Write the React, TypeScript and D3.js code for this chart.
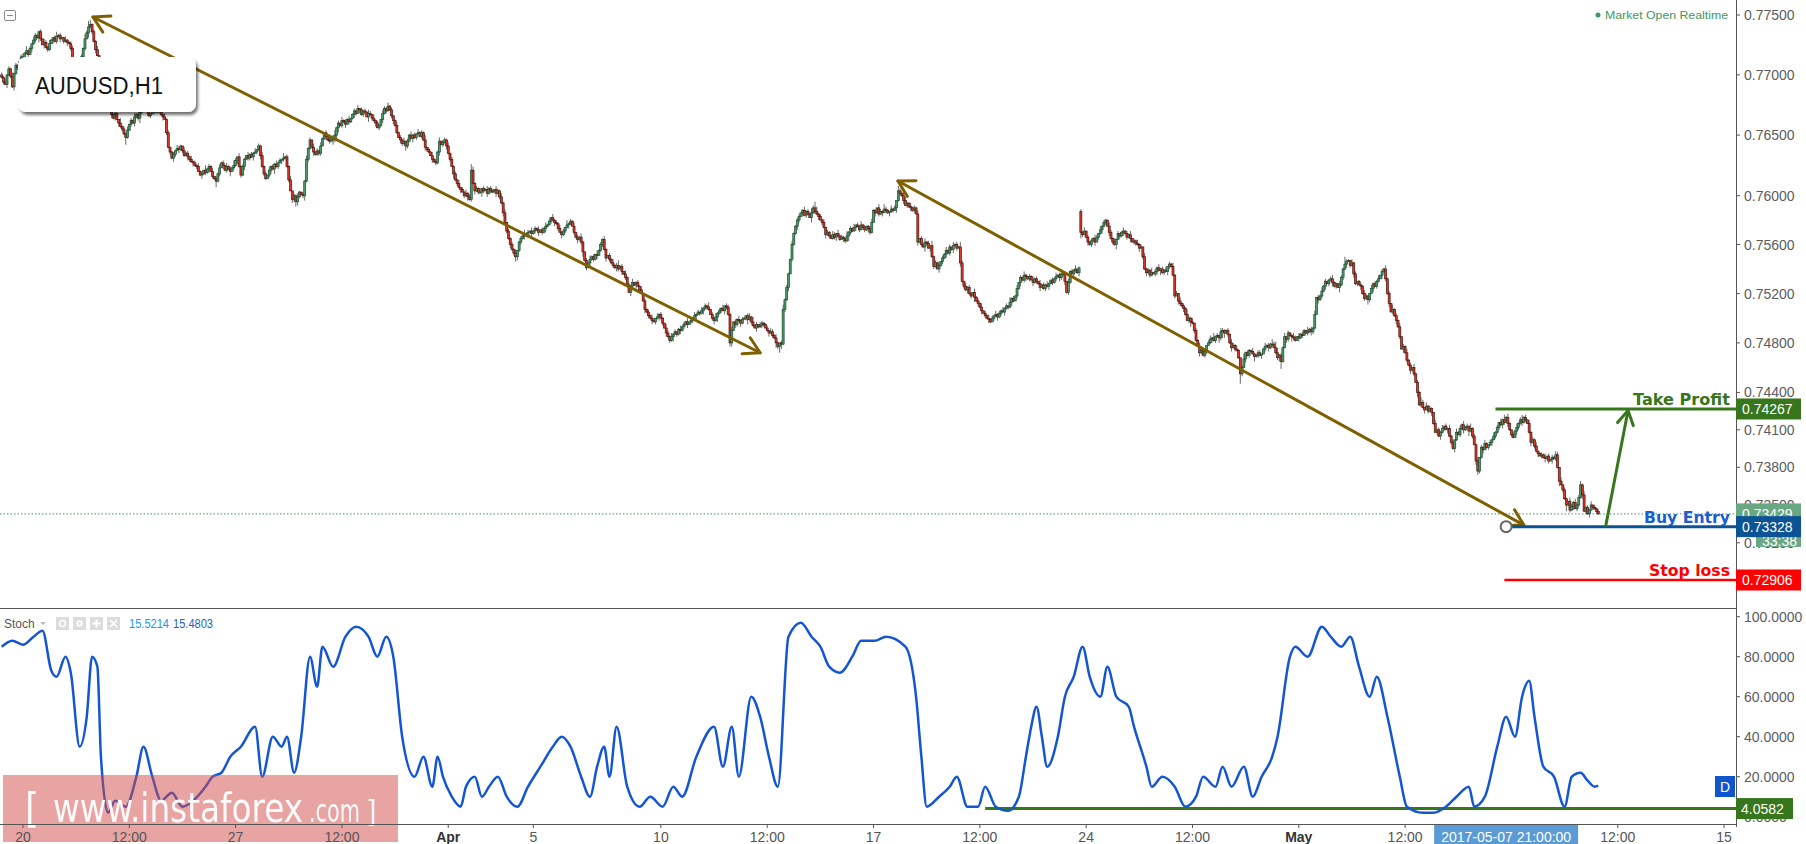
import React, { useEffect } from "react";
import * as d3 from "d3";

// ---------------- DATA ----------------
// AUDUSD H1 closes, in pips (0.0001). Bar 0 = first visible hourly bar.
const firstOpenPips = 7700;
const closesPips = [
7698,7694,7692,7700,7705,7699,7690,7701,7708,7706,
7711,7715,7713,7718,7720,7717,7722,7726,7729,7733,
7731,7736,7730,7725,7727,7723,7721,7726,7729,7731,
7728,7732,7733,7730,7731,7728,7729,7727,7726,7722,
7711,7706,7709,7708,7712,7715,7722,7730,7735,7740,
7742,7736,7728,7721,7716,7710,7702,7695,7688,7681,
7675,7670,7667,7664,7668,7663,7660,7657,7655,7651,
7648,7654,7659,7662,7660,7665,7667,7664,7669,7671,
7672,7675,7671,7666,7668,7670,7673,7669,7672,7670,
7667,7665,7663,7652,7640,7636,7631,7634,7637,7639,
7638,7641,7637,7633,7635,7632,7630,7628,7627,7625,
7624,7620,7617,7618,7621,7619,7622,7624,7620,7616,
7614,7612,7618,7623,7627,7625,7621,7624,7622,7620,
7623,7625,7629,7632,7624,7617,7624,7630,7633,7631,
7634,7632,7635,7636,7638,7641,7633,7624,7618,7614,
7617,7621,7624,7622,7626,7624,7627,7629,7630,7631,
7632,7624,7613,7604,7597,7600,7595,7599,7603,7601,
7600,7612,7630,7639,7646,7640,7636,7634,7637,7635,
7641,7647,7652,7649,7646,7645,7648,7646,7650,7656,
7660,7658,7662,7661,7659,7663,7661,7664,7667,7670,
7668,7672,7671,7667,7670,7669,7665,7668,7667,7664,
7662,7660,7656,7658,7663,7668,7672,7670,7674,7671,
7666,7662,7658,7652,7648,7646,7643,7645,7641,7645,
7650,7647,7650,7648,7651,7652,7649,7652,7646,7640,
7638,7636,7633,7630,7628,7627,7636,7645,7642,7644,
7646,7641,7635,7630,7624,7618,7613,7610,7607,7605,
7603,7600,7602,7599,7597,7621,7610,7604,7606,7603,
7603,7606,7604,7605,7602,7606,7604,7603,7605,7602,
7604,7599,7594,7586,7578,7571,7565,7560,7556,7553,
7550,7555,7562,7565,7567,7569,7567,7570,7571,7569,
7571,7573,7572,7570,7572,7570,7573,7575,7576,7579,
7582,7580,7578,7577,7573,7570,7568,7571,7574,7576,
7577,7579,7575,7570,7566,7564,7566,7562,7554,7547,
7541,7545,7548,7550,7548,7552,7551,7555,7560,7564,
7556,7549,7551,7548,7545,7543,7541,7543,7540,7542,
7538,7536,7533,7527,7521,7526,7529,7527,7529,7526,
7523,7520,7514,7507,7505,7502,7500,7498,7497,7500,
7501,7503,7500,7496,7492,7488,7485,7482,7485,7487,
7489,7487,7491,7490,7493,7495,7497,7495,7497,7498,
7500,7502,7503,7505,7504,7506,7508,7510,7509,7507,
7503,7500,7498,7501,7504,7506,7508,7506,7510,7509,
7503,7480,7490,7497,7495,7499,7498,7496,7499,7500,
7502,7499,7501,7497,7494,7492,7495,7493,7494,7496,
7495,7492,7490,7488,7489,7486,7484,7480,7477,7480,
7479,7507,7515,7525,7536,7548,7560,7569,7575,7580,
7583,7586,7588,7584,7587,7585,7582,7586,7590,7587,
7585,7583,7580,7578,7574,7568,7570,7567,7565,7568,
7566,7569,7567,7564,7566,7565,7563,7567,7570,7573,
7571,7574,7576,7575,7572,7576,7574,7572,7575,7573,
7570,7578,7588,7586,7590,7585,7587,7586,7589,7588,
7586,7587,7589,7588,7590,7596,7604,7602,7600,7596,
7592,7594,7591,7590,7588,7590,7585,7562,7565,7560,
7558,7562,7561,7557,7559,7550,7542,7545,7540,7543,
7546,7549,7552,7555,7553,7558,7556,7559,7560,7557,
7558,7545,7530,7526,7523,7525,7520,7518,7521,7517,
7514,7512,7509,7506,7504,7502,7500,7499,7497,7500,
7502,7503,7501,7504,7506,7505,7508,7510,7509,7513,
7516,7514,7518,7524,7529,7533,7531,7535,7534,7532,
7534,7531,7529,7532,7530,7528,7525,7527,7524,7527,
7526,7528,7531,7529,7532,7534,7535,7533,7536,7536,
7530,7521,7529,7538,7536,7539,7540,7537,7541,7570,
7568,7571,7566,7562,7560,7563,7565,7562,7566,7569,
7572,7575,7578,7580,7575,7570,7565,7562,7560,7564,
7569,7567,7570,7571,7569,7566,7568,7565,7562,7563,
7561,7560,7557,7558,7550,7540,7537,7539,7535,7537,
7536,7538,7541,7539,7540,7537,7539,7538,7542,7544,
7542,7535,7518,7520,7514,7512,7510,7508,7503,7498,
7500,7497,7496,7490,7482,7477,7472,7474,7470,7473,
7478,7480,7483,7484,7482,7485,7486,7484,7489,7490,
7488,7490,7487,7480,7476,7478,7475,7474,7468,7455,
7460,7467,7472,7470,7474,7473,7471,7469,7470,7472,
7470,7471,7475,7477,7478,7476,7479,7479,7476,7472,
7468,7470,7465,7476,7485,7483,7488,7486,7485,7484,
7482,7485,7484,7487,7486,7490,7488,7489,7491,7489,
7492,7503,7517,7515,7518,7522,7526,7530,7528,7531,
7532,7529,7526,7528,7525,7527,7533,7540,7544,7546,
7547,7543,7545,7536,7528,7530,7527,7526,7520,7516,
7518,7515,7520,7524,7528,7526,7530,7532,7535,7538,
7540,7532,7520,7512,7505,7507,7502,7498,7493,7485,
7475,7477,7472,7466,7462,7458,7460,7455,7448,7440,
7430,7432,7428,7426,7429,7425,7427,7424,7415,7408,
7410,7405,7408,7411,7413,7410,7411,7405,7400,7395,
7402,7408,7406,7411,7414,7410,7412,7413,7409,7411,
7405,7398,7385,7377,7388,7396,7394,7399,7396,7398,
7400,7402,7405,7408,7412,7416,7414,7418,7416,7420,
7415,7410,7406,7404,7409,7412,7415,7418,7416,7420,
7418,7415,7408,7400,7402,7397,7393,7391,7389,7390,
7388,7387,7389,7385,7386,7388,7387,7390,7380,7369,
7366,7362,7355,7350,7353,7346,7349,7352,7347,7350,
7356,7366,7358,7345,7348,7343,7346,7350,7348,7347,
7345,7343
];
// bars whose open gaps away from the previous close: [bar, open pips]
const gapOpens = [[609, 7587]];
// upper / lower wick lengths in pips, one digit per bar
const wickUpPips = (
"2130213121 0231412032 1120321310 2412103112 2013121425" +
"4121302113 2031210412 1302131201 2311032142 1031201213" +
"2103121302 1312041213 0213120312 1420312103 1213021312" +
"0312131204 1213021310 2131203121 3102131241 2031213012" +
"1302121320 3121032131 2013121302 1312031214 0213121302" +
"2130212130 2131253121 3021312103 2131302121 3012131203" +
"1213021312 0312131204 1213021310 2131203121 3102131241" +
"2031213012 1302121320 3121032131 2013121302 1312031214" +
"0213121302 2130213121 0231412032 1120321310 2412103112" +
"2013121425 4121302113 2031210412 1302131201 2311032142" +
"1031204213 3103121302 1312041213 0213120312 1420312103" +
"1213021312 0312131204 1213021310 2131203121 3102131241" +
"2031213012 1302121320 3121032131 2013121302 1312031214" +
"0213121302 1312031214 2130213121 0231412032 1120321310" +
"2412103112 2013121425 4121302113 2031210412 1302131201" +
"2311032162 1031201213 2103121302 1312041213 0213120312" +
"1420312103 1213021312 0312131204 1213021310 2131203141" +
"3102131241 2031213012 1302121320 3121032131 2313121302" +
"12").replace(/\s/g, "").split("").map(Number);
const wickDownPips = (
"1203121312 0213120312 1420312103 1213021312 0312131204" +
"1213021310 2131203121 6102131241 2031213012 1302121320" +
"3121032131 2013121302 1512031214 0213121302 2130213121" +
"0231412032 1120324310 2412103112 2013121425 4121302113" +
"2031210412 1302131201 2311032142 1031201213 2103121302" +
"1312041213 0213120312 1420312103 1213021312 4312131204" +
"1213021310 2131203121 3102131241 2031213012 1302121320" +
"3121032131 2013121302 1312031214 0213121302 2130213121" +
"0231412032 1330321310 2412103112 2013121425 4121302113" +
"2031210412 1302131201 2311032142 1031201213 2103121302" +
"1312041213 0213120312 1420312103 1213021312 0312131204" +
"1213021310 2131203121 3102131241 2031213012 1302121320" +
"3121032135 2013121302 1312031214 0213121302 2130213121" +
"0231412032 1120321310 2412103112 2013121425 4121302118" +
"2031210412 1302131201 2361032142 1031201213 2103121302" +
"1312041213 0213120312 1420312103 1213021312 0312131204" +
"1213021310 2131203121 3102131241 2033213012 1302121320" +
"3121032131 2013121302 1312031214 0215121302 2130213121" +
"21").replace(/\s/g, "").split("").map(Number);

// Stochastic (traced points: bar index, value)
const stochBars = [0,6,12,18,23,28,31,36,39,44,48,51,54,56,60,64,70,76,80,85,90,96,102,108,115,119,124,129,135,143,147,153,158,161,165,169,174,178,181,187,194,200,207,212,217,221,226,233,238,243,246,249,254,259,262,267,271,275,280,285,291,297,304,311,316,321,327,332,336,340,343,347,353,360,366,373,379,384,392,402,407,412,416,423,428,433,438,444,451,457,462,467,473,480,485,493,499,510,516,519,522,529,535,539,545,551,555,561,568,574,578,581,584,587,590,596,600,605,610,614,620,624,629,636,639,646,649,655,662,668,674,678,685,689,694,701,706,711,717,720,727,730,737,745,750,756,761,766,772,776,782,789,793,802,808,815,821,828,831,837,844,849,854,858,862,865,870,876,882,886,891,895,899,901];
const stochValues = [85,88,86,90,93,73,70,80,72,35,50,80,75,30,2,8,5,20,35,20,8,12,5,8,15,20,22,30,35,45,20,40,35,40,22,40,80,65,85,75,90,95,90,80,90,80,40,20,30,15,30,20,10,5,15,20,10,15,20,10,5,15,25,35,40,35,20,10,25,35,20,45,15,5,10,5,15,10,30,45,25,45,20,60,50,30,15,90,97,90,85,75,72,80,88,88,90,85,60,30,5,10,15,20,5,5,15,5,3,10,30,45,55,40,25,40,60,70,85,70,60,75,60,55,45,25,15,20,15,5,10,20,15,25,15,25,10,20,30,40,80,85,80,95,90,85,90,75,60,70,50,20,5,2,2,5,10,15,5,10,35,50,40,60,68,50,25,20,5,20,22,18,15,15.5];

const priceTicks = [0.775, 0.77, 0.765, 0.76, 0.756, 0.752, 0.748, 0.744, 0.741, 0.738, 0.735, 0.732];
const stochTicks = [100, 80, 60, 40, 20, 0];
const timeTickBars = [12, 72, 132, 192, 252, 300, 372, 432, 492, 552, 612, 672, 732, 792, 912, 972];
const timeTickLabels = ["20", "12:00", "27", "12:00", "Apr", "5", "10", "12:00", "17", "12:00", "24", "12:00", "May", "12:00", "12:00", "15"];
const boldTimeLabels = ["Apr", "May"];

const takeProfit = 0.74267;
const buyEntry = 0.73328;
const stopLoss = 0.72906;
const lastPrice = 0.73429;
const stochLevel = 4.0582;
const stochLegendValues = ["15.5214", "15.4803"];
const crosshairBar = 849;
const crosshairLabel = "2017-05-07 21:00:00";
const countdownLabel = "33:38";

// annotation anchors: [bar, price]
const trendArrows = [
  { from: [51.5, 0.77483], to: [428, 0.7472] },
  { from: [505.8, 0.76121], to: [859, 0.7334] },
];
const targetArrow = { from: [905.3, 0.7334], to: [917.8, 0.74255] };
const levelStartBars = { tp: 843, entry: 849, sl: 848, stochLine: 555 };

// ---------------- STYLE ----------------
const FONT = "'Liberation Sans', Arial, sans-serif";
const AXIS_X = 1736;
const MAIN_BOTTOM = 608;
const STOCH_BOTTOM = 824;
const UP_FILL = "#4a9a6b", UP_STROKE = "#1d4f31";
const DN_FILL = "#d93a2a", DN_STROKE = "#4d130d";
const WICK = "#6a6a6a";
const OLIVE = "#7f6000";
const GREEN = "#38761d";
const BLUE = "#0b5394";
const RED = "#ff0000";

function headPath(tx: number, ty: number, fx: number, fy: number, len: number) {
  const a = Math.atan2(fy - ty, fx - tx);
  const a1 = a + Math.PI / 6, a2 = a - Math.PI / 6;
  return `M${tx + len * Math.cos(a1)},${ty + len * Math.sin(a1)}L${tx},${ty}L${tx + len * Math.cos(a2)},${ty + len * Math.sin(a2)}`;
}

export default function App() {
  useEffect(() => {
    document.body.style.margin = "0";
  }, []);

  const x = d3.scaleLinear().domain([0, 1000]).range([1.7, 1.7 + 1772]);
  const y = d3.scaleLog().domain([stopLoss, 0.775]).range([580, 15]);
  const ys = d3.scaleLinear().domain([0, 100]).range([816.7, 616.7]);

  const candles = closesPips.map((c, i) => {
    const gap = gapOpens.find((g) => g[0] === i);
    const o = gap ? gap[1] : i === 0 ? firstOpenPips : closesPips[i - 1];
    const h = Math.max(o, c) + (wickUpPips[i] ?? 1);
    const l = Math.min(o, c) - (wickDownPips[i] ?? 1);
    return { i, o: o / 1e4, c: c / 1e4, h: h / 1e4, l: l / 1e4 };
  });

  const stochLine = d3
    .line<number>()
    .x((_, k) => x(stochBars[k]))
    .y((v) => ys(v))
    .curve(d3.curveMonotoneX);

  const fmtP = d3.format(".5f");
  const fmtS = d3.format(".4f");

  const levelBox = (price: number, fill: string, label: string) => {
    const cy = y(price);
    return (
      <g>
        <rect x={AXIS_X} y={cy - 10.5} width={65} height={21} fill={fill} />
        <text x={AXIS_X + 6} y={cy + 5} fill="#fff" fontSize={14}>{label}</text>
      </g>
    );
  };

  return (
    <svg width={1806} height={844} style={{ position: "absolute", left: 0, top: 0, background: "#fff" }} fontFamily={FONT}>
      <defs>
        <clipPath id="mainClip"><rect x={0} y={0} width={AXIS_X} height={MAIN_BOTTOM} /></clipPath>
        <clipPath id="stochClip"><rect x={0} y={MAIN_BOTTOM + 1} width={AXIS_X} height={STOCH_BOTTOM - MAIN_BOTTOM - 1} /></clipPath>
        <filter id="boxShadow" x="-10%" y="-20%" width="130%" height="160%">
          <feDropShadow dx={2} dy={3} stdDeviation={1.8} floodColor="#000" floodOpacity={0.55} />
        </filter>
      </defs>
      <rect x={0} y={0} width={1806} height={844} fill="#fff" />

      {/* ---------- main pane ---------- */}
      <g clipPath="url(#mainClip)">
        <line x1={0} x2={AXIS_X} y1={y(lastPrice)} y2={y(lastPrice)} stroke="#3f9a66" strokeWidth={1} strokeDasharray="1.5,2" />
        <g>
          {candles.map((d) => (
            <line key={"w" + d.i} x1={x(d.i)} x2={x(d.i)} y1={y(d.h)} y2={y(d.l)} stroke={WICK} strokeWidth={1} />
          ))}
        </g>
        <g>
          {candles.map((d) => {
            const up = d.c >= d.o;
            const top = y(Math.max(d.o, d.c));
            const bot = y(Math.min(d.o, d.c));
            return (
              <rect key={"b" + d.i} x={x(d.i) - 1} width={2} y={top} height={Math.max(bot - top, 1)}
                fill={up ? UP_FILL : DN_FILL} stroke={up ? UP_STROKE : DN_STROKE} strokeWidth={0.7} />
            );
          })}
        </g>

        {trendArrows.map((a, k) => {
          const x1 = x(a.from[0]), y1 = y(a.from[1]), x2 = x(a.to[0]), y2 = y(a.to[1]);
          return (
            <g key={"ta" + k} stroke={OLIVE} strokeWidth={3} fill="none" strokeLinecap="round" strokeLinejoin="round">
              <line x1={x1} y1={y1} x2={x2} y2={y2} />
              <path d={headPath(x1, y1, x2, y2, 18)} />
              <path d={headPath(x2, y2, x1, y1, 18)} />
            </g>
          );
        })}

        {/* levels */}
        <line x1={x(levelStartBars.tp)} x2={AXIS_X} y1={y(takeProfit)} y2={y(takeProfit)} stroke={GREEN} strokeWidth={3} />
        <line x1={x(levelStartBars.entry)} x2={AXIS_X} y1={y(buyEntry)} y2={y(buyEntry)} stroke={BLUE} strokeWidth={3} />
        <line x1={x(levelStartBars.sl)} x2={AXIS_X} y1={y(stopLoss)} y2={y(stopLoss)} stroke={RED} strokeWidth={2.5} />
        <circle cx={x(crosshairBar)} cy={y(buyEntry)} r={5.5} fill="#fff" stroke="#666" strokeWidth={2} />

        {(() => {
          const x1 = x(targetArrow.from[0]), y1 = y(targetArrow.from[1]), x2 = x(targetArrow.to[0]), y2 = y(targetArrow.to[1]);
          return (
            <g stroke={GREEN} strokeWidth={3} fill="none" strokeLinecap="round" strokeLinejoin="round">
              <line x1={x1} y1={y1} x2={x2} y2={y2} />
              <path d={headPath(x2, y2, x1, y1, 16)} />
            </g>
          );
        })()}

        <g fontFamily="'DejaVu Sans', Verdana, sans-serif" fontWeight="bold" fontSize={16} textAnchor="end">
          <text x={1730} y={y(takeProfit) - 4} fill={GREEN} textLength={97} lengthAdjust="spacingAndGlyphs">Take Profit</text>
          <text x={1730} y={y(buyEntry) - 4} fill="#1a5fd0" textLength={86} lengthAdjust="spacingAndGlyphs">Buy Entry</text>
          <text x={1730} y={y(stopLoss) - 4} fill={RED} textLength={81} lengthAdjust="spacingAndGlyphs">Stop loss</text>
        </g>

        {/* symbol box */}
        <rect x={18} y={57} width={178} height={55} rx={8} fill="#fff" filter="url(#boxShadow)" />
        <text x={35} y={94} fontSize={23} fill="#111" textLength={128} lengthAdjust="spacingAndGlyphs">AUDUSD,H1</text>

        {/* collapse icon */}
        <rect x={4.5} y={10.5} width={11} height={10} rx={1.5} fill="#fff" stroke="#8a8a8a" />
        <line x1={7} x2={13} y1={15.5} y2={15.5} stroke="#8a8a8a" />

        <circle cx={1598} cy={15} r={2.5} fill="#3c9a60" />
        <text x={1728} y={19} textAnchor="end" fontSize={11.5} fill="#3c9a60" textLength={123} lengthAdjust="spacingAndGlyphs">Market Open Realtime</text>
      </g>

      {/* ---------- stochastic pane ---------- */}
      <g clipPath="url(#stochClip)">
        <line x1={x(levelStartBars.stochLine)} x2={AXIS_X} y1={ys(stochLevel)} y2={ys(stochLevel)} stroke={GREEN} strokeWidth={3} />
        <path d={stochLine(stochValues) || ""} fill="none" stroke="#1456d2" strokeWidth={2.5} strokeLinejoin="round" />
        <rect x={1715} y={776} width={20} height={21} fill="#1155cc" />
        <text x={1725} y={792} textAnchor="middle" fill="#fff" fontSize={14}>D</text>
      </g>
      <g>
        <text x={4} y={628} fontSize={12} fill="#555">Stoch</text>
        <path d="M40,622 L46,622 L43,625 Z" fill="#bbb" />
        {[56, 73, 90, 107].map((ix, k) => (
          <rect key={"ic" + k} x={ix} y={617} width={13} height={13} fill="#dcdcdc" />
        ))}
        <circle cx={62.5} cy={623.5} r={3} fill="none" stroke="#fff" strokeWidth={1.5} />
        <circle cx={79.5} cy={623.5} r={3.2} fill="#fff" />
        <circle cx={79.5} cy={623.5} r={1.2} fill="#dcdcdc" />
        <path d="M96.5,619.5 V627.5 M92.5,623.5 H100.5" stroke="#fff" strokeWidth={2} />
        <path d="M110,620 L117,627 M117,620 L110,627" stroke="#fff" strokeWidth={1.6} />
        <text x={129} y={628} fontSize={12} fill="#2196f3" textLength={40} lengthAdjust="spacingAndGlyphs">{stochLegendValues[0]}</text>
        <text x={173} y={628} fontSize={12} fill="#1b63c6" textLength={40} lengthAdjust="spacingAndGlyphs">{stochLegendValues[1]}</text>
      </g>

      {/* watermark */}
      <rect x={3} y={775} width={395} height={67} fill="#d14747" opacity={0.5} />
      <g fill="#fff" fontFamily="'Liberation Sans Narrow', 'DejaVu Sans Condensed', Arial, sans-serif" opacity={0.95}>
        <text x={25} y={822} fontSize={40}>[</text>
        <text x={53} y={822} fontSize={40} textLength={250} lengthAdjust="spacingAndGlyphs">www.instaforex</text>
        <text x={309} y={822} fontSize={32} textLength={51} lengthAdjust="spacingAndGlyphs">.com</text>
        <text x={366} y={822} fontSize={30}>]</text>
      </g>

      {/* ---------- axes ---------- */}
      <line x1={0} x2={AXIS_X} y1={MAIN_BOTTOM + 0.5} y2={MAIN_BOTTOM + 0.5} stroke="#555" strokeWidth={1} />
      <line x1={0} x2={AXIS_X} y1={STOCH_BOTTOM + 0.5} y2={STOCH_BOTTOM + 0.5} stroke="#555" strokeWidth={1} />
      <line x1={AXIS_X + 0.5} x2={AXIS_X + 0.5} y1={0} y2={827} stroke="#555" strokeWidth={1} />

      <g fontSize={14} fill="#5c5c5c">
        {priceTicks.map((p) => (
          <g key={"pt" + p}>
            <line x1={AXIS_X} x2={AXIS_X + 4} y1={y(p)} y2={y(p)} stroke="#555" />
            <text x={1744} y={y(p) + 5}>{fmtP(p)}</text>
          </g>
        ))}
        {stochTicks.map((v) => (
          <g key={"st" + v}>
            <line x1={AXIS_X} x2={AXIS_X + 4} y1={ys(v)} y2={ys(v)} stroke="#555" />
            <text x={1744} y={ys(v) + 5}>{fmtS(v)}</text>
          </g>
        ))}
      </g>

      {/* price label boxes */}
      <rect x={1756} y={y(lastPrice)} width={45} height={33} fill="#6aa884" />
      <text x={1762} y={546} fill="#fff" fontSize={14}>{countdownLabel}</text>
      {levelBox(lastPrice, "#6aa884", fmtP(lastPrice))}
      {levelBox(takeProfit, GREEN, fmtP(takeProfit))}
      {levelBox(buyEntry, BLUE, fmtP(buyEntry))}
      {levelBox(stopLoss, RED, fmtP(stopLoss))}
      <rect x={AXIS_X} y={ys(stochLevel) - 10.5} width={57} height={21} fill={GREEN} />
      <text x={AXIS_X + 5} y={ys(stochLevel) + 5} fill="#fff" fontSize={14}>{fmtS(stochLevel)}</text>

      {/* time axis */}
      <g fontSize={14} fill="#555" textAnchor="middle">
        {timeTickBars.map((b, k) => (
          <g key={"tt" + k}>
            <line x1={x(b)} x2={x(b)} y1={STOCH_BOTTOM} y2={STOCH_BOTTOM + 4} stroke="#555" />
            <text x={x(b)} y={842} fontWeight={boldTimeLabels.includes(timeTickLabels[k]) ? "bold" : "normal"}
              fill={boldTimeLabels.includes(timeTickLabels[k]) ? "#333" : "#555"}>{timeTickLabels[k]}</text>
          </g>
        ))}
      </g>
      <rect x={x(crosshairBar) - 72} y={STOCH_BOTTOM + 1} width={144} height={20} fill="#5b9bd5" />
      <text x={x(crosshairBar)} y={842} textAnchor="middle" fill="#fff" fontSize={14}>{crosshairLabel}</text>
    </svg>
  );
}
